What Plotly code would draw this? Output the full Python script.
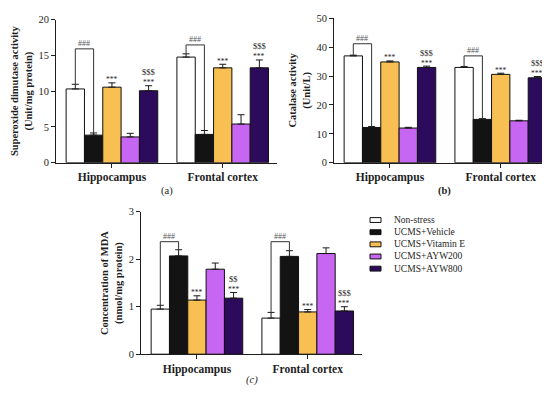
import plotly.graph_objects as go

# ---------------- data ----------------
regions = ["Hippocampus", "Frontal cortex"]
groups = ["Non-stress", "UCMS+Vehicle", "UCMS+Vitamin E", "UCMS+AYW200", "UCMS+AYW800"]
colors = ["#FFFFFF", "#131313", "#F8BF52", "#C766F2", "#2D0B5C"]

# Superoxide dismutase (Unit/mg protein)  [hippocampus, frontal cortex]
sod_mean = [[10.3, 14.75], [3.85, 3.95], [10.55, 13.25], [3.6, 5.4], [10.05, 13.25]]
sod_err = [[0.65, 0.45], [0.3, 0.55], [0.6, 0.5], [0.5, 1.3], [0.7, 1.1]]
# Catalase (Unit/L)
cat_mean = [[37.0, 33.0], [12.2, 15.0], [34.9, 30.6], [12.0, 14.5], [33.0, 29.4]]
cat_err = [[0.25, 0.3], [0.35, 0.25], [0.35, 0.4], [0.25, 0.2], [0.45, 0.45]]
# MDA (nmol/mg protein)
mda_mean = [[0.95, 0.76], [2.07, 2.06], [1.14, 0.89], [1.79, 2.12], [1.18, 0.91]]
mda_err = [[0.08, 0.12], [0.13, 0.12], [0.09, 0.05], [0.13, 0.12], [0.12, 0.09]]

# significance labels
hash_label = "###"
star_label = "***"
star_groups = [2, 4]                     # bars marked *** (vs vehicle)
sod_dollar = ["$$$", "$$$"]
cat_dollar = ["$$$", "$$$"]
mda_dollar = ["$$", "$$$"]
sod_bracket = [15.9, 16.45]
cat_bracket = [41.2, 37.0]
mda_bracket = [2.37, 2.37]

panel_titles = ["Superoxide dimutase activity<br>(Unit/mg protein)",
                "Catalase activity<br>(Unit/L)",
                "Concentration of MDA<br>(nmol/mg protein)"]
panel_letters = ["(a)", "<b>(b)</b>", "<i>(c)</i>"]
y_ranges = [[0, 20], [0, 50], [0, 3]]
y_dticks = [5, 10, 1]

# ---------------- figure ----------------
W, H = 550, 393
SERIF = "Liberation Serif"
INK = "#1e1e1e"
fig = go.Figure()

panels = [
    dict(mean=sod_mean, err=sod_err, dollar=sod_dollar, bracket=sod_bracket,
         xd=(48, 269), yd=(154, 6.7), title_x=14, letter_y=183),
    dict(mean=cat_mean, err=cat_err, dollar=cat_dollar, bracket=cat_bracket,
         xd=(326, 547), yd=(154, 5.5), title_x=292, letter_y=183),
    dict(mean=mda_mean, err=mda_err, dollar=mda_dollar, bracket=mda_bracket,
         xd=(133, 354), yd=(351, 204.5), title_x=104, letter_y=378),
]

BARGAP = 0.173
bw = (1 - BARGAP) / len(groups)

def px_x(p):
    return p / W

def px_y(p):
    return 1 - p / H

for pi, P in enumerate(panels):
    sfx = "" if pi == 0 else str(pi + 1)
    xref, yref = "x" + sfx, "y" + sfx
    for gi, g in enumerate(groups):
        fig.add_trace(go.Bar(
            x=regions, y=P["mean"][gi], name=g,
            marker=dict(color=colors[gi], line=dict(color="#111111", width=1)),
            error_y=dict(type="data", symmetric=False, array=P["err"][gi],
                         arrayminus=[0] * len(regions), color="#1a1a1a",
                         thickness=1, width=3.5),
            showlegend=False, xaxis=xref, yaxis=yref,
            offsetgroup=str(gi),
        ))
    ax = dict(domain=[px_x(P["xd"][0]), px_x(P["xd"][1])], anchor=yref,
              type="category", range=[-0.505, 1.49],
              showline=True, linecolor=INK, linewidth=1, ticks="outside",
              ticklen=4, tickcolor=INK, showgrid=False, zeroline=False,
              tickfont=dict(family=SERIF, size=11.5, color=INK, weight="bold"))
    ay = dict(domain=[px_y(P["yd"][0]), px_y(P["yd"][1])], anchor=xref,
              range=y_ranges[pi], dtick=y_dticks[pi], tick0=0,
              showline=True, linecolor=INK, linewidth=1, ticks="outside",
              ticklen=4, tickcolor=INK, showgrid=False, zeroline=False,
              tickfont=dict(family=SERIF, size=10.5, color=INK))
    fig.update_layout({"xaxis" + sfx: ax, "yaxis" + sfx: ay})

    # y title
    fig.add_annotation(text="<b>" + panel_titles[pi] + "</b>", textangle=-90,
                       xref="paper", yref="paper", x=px_x(P["title_x"]),
                       y=(px_y(P["yd"][0]) + px_y(P["yd"][1])) / 2,
                       showarrow=False, xanchor="center", yanchor="middle",
                       font=dict(family=SERIF, size=10.5, color=INK))
    # panel letter
    fig.add_annotation(text=panel_letters[pi], xref="paper", yref="paper",
                       x=(px_x(P["xd"][0]) + px_x(P["xd"][1])) / 2,
                       y=px_y(P["letter_y"]), showarrow=False,
                       xanchor="center", yanchor="middle",
                       font=dict(family=SERIF, size=10.5, color=INK))

    for ri in range(len(regions)):
        # ### bracket between non-stress and vehicle
        xl = ri + (0 - 2) * bw
        xr = ri + (1 - 2) * bw
        top = P["bracket"][ri]
        yl = P["mean"][0][ri] + P["err"][0][ri]
        yr = P["mean"][1][ri] + P["err"][1][ri]
        fig.add_shape(type="path", xref=xref, yref=yref,
                      path=f"M {xl} {yl} L {xl} {top} L {xr} {top} L {xr} {yr}",
                      line=dict(color="#333333", width=1))
        fig.add_annotation(text=hash_label, xref=xref, yref=yref,
                           x=(xl + xr) / 2, y=top, yanchor="bottom", yshift=-1.5,
                           showarrow=False,
                           font=dict(family=SERIF, size=8, color="#555555"))
        # *** marks
        for gi in star_groups:
            xc = ri + (gi - 2) * bw
            ytop = P["mean"][gi][ri] + P["err"][gi][ri]
            fig.add_annotation(text=star_label, xref=xref, yref=yref,
                               x=xc, y=ytop, yanchor="bottom", yshift=-3.5,
                               showarrow=False,
                               font=dict(family=SERIF, size=7.5, color=INK))
        # $ marks on AYW800
        xc = ri + (4 - 2) * bw
        ytop = P["mean"][4][ri] + P["err"][4][ri]
        fig.add_annotation(text=P["dollar"][ri], xref=xref, yref=yref,
                           x=xc, y=ytop, yanchor="bottom", yshift=6.5,
                           showarrow=False,
                           font=dict(family=SERIF, size=8.5, color=INK))

# manual compact legend
leg_rows = [213, 225.5, 238, 250.5, 263]
for gi, g in enumerate(groups):
    yc = leg_rows[gi]
    fig.add_shape(type="rect", xref="paper", yref="paper",
                  x0=px_x(362), x1=px_x(373), y0=px_y(yc + 2.5), y1=px_y(yc - 2.5),
                  fillcolor=colors[gi], line=dict(color="#111111", width=1))
    fig.add_annotation(text=g, xref="paper", yref="paper", x=px_x(384),
                       y=px_y(yc), xanchor="left", yanchor="middle",
                       showarrow=False,
                       font=dict(family=SERIF, size=9.5, color=INK))

fig.update_layout(width=W, height=H, margin=dict(l=0, r=0, t=0, b=0),
                  paper_bgcolor="white", plot_bgcolor="white",
                  barmode="group", bargap=BARGAP, bargroupgap=0,
                  showlegend=False)

fig.write_html("out.html")
